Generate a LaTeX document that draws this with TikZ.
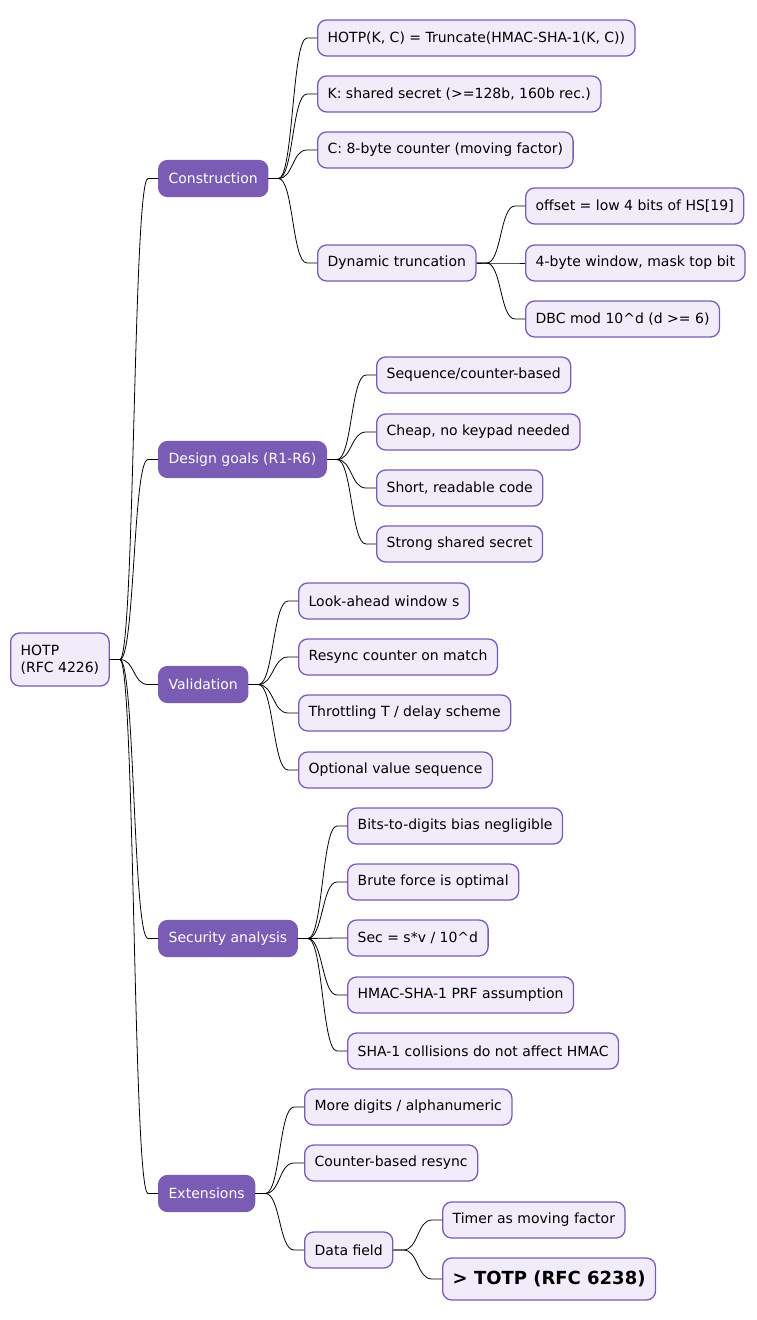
\documentclass[tikz,border=0pt]{standalone}
\usepackage{fontspec}
\setmainfont{DejaVu Sans}
\definecolor{mmfill}{HTML}{F1ECFA}
\definecolor{mmline}{HTML}{7B5CB5}

\begin{document}
\begin{tikzpicture}[x=1pt,y=-1pt]

% --- styles ---
\tikzset{
    blad/.style={
        draw=mmline, fill=mmfill, line width=1.3pt,
        rounded corners=9pt, anchor=west,
        font=\fontsize{14}{17}\selectfont,
        inner xsep=10pt, minimum height=36pt
    },
    tak/.style={
        blad, draw=mmline, fill=mmline, text=white
    },
    lijn/.style={
        draw=black, line width=0.8pt
    }
}
\useasboundingbox (0,0) rectangle (756,1320);

% --- root and main branches ---
\node[blad, align=left, minimum height=53pt] (root) at (10,659.5) {HOTP\\(RFC 4226)};
\node[tak] (cons) at (158,178.5) {Construction};
\node[tak] (goal) at (158,459.5) {Design goals (R1-R6)};
\node[tak] (vali) at (158,684.5) {Validation};
\node[tak] (secu) at (158,938.5) {Security analysis};
\node[tak] (exte) at (158,1193.5) {Extensions};

% --- construction ---
\node[blad] (cons1) at (317,38)  {HOTP(K, C) = Truncate(HMAC-SHA-1(K, C))};
\node[blad] (cons2) at (317,94)  {K: shared secret (>=128b, 160b rec.)};
\node[blad] (cons3) at (317,150) {C: 8-byte counter (moving factor)};
\node[blad] (dyn)   at (317,263) {Dynamic truncation};
\node[blad] (dyn1) at (525,206) {offset = low 4 bits of HS[19]};
\node[blad] (dyn2) at (525,263) {4-byte window, mask top bit};
\node[blad] (dyn3) at (525,319) {DBC mod 10\^{}d (d >= 6)};

% --- design goals ---
\node[blad] (goal1) at (376,375) {Sequence/counter-based};
\node[blad] (goal2) at (376,432) {Cheap, no keypad needed};
\node[blad] (goal3) at (376,488) {Short, readable code};
\node[blad] (goal4) at (376,544) {Strong shared secret};

% --- validation ---
\node[blad] (vali1) at (298,601) {Look-ahead window s};
\node[blad] (vali2) at (298,657) {Resync counter on match};
\node[blad] (vali3) at (298,713) {Throttling T / delay scheme};
\node[blad] (vali4) at (298,770) {Optional value sequence};

% --- security ---
\node[blad] (secu1) at (347,826)  {Bits-to-digits bias negligible};
\node[blad] (secu2) at (347,882)  {Brute force is optimal};
\node[blad] (secu3) at (347,938)  {Sec = s*v / 10\^{}d};
\node[blad] (secu4) at (347,995)  {HMAC-SHA-1 PRF assumption};
\node[blad] (secu5) at (347,1051) {SHA-1 collisions do not affect HMAC};

% --- extensions ---
\node[blad] (exte1) at (304,1107) {More digits / alphanumeric};
\node[blad] (exte2) at (304,1163) {Counter-based resync};
\node[blad] (data)  at (304,1250) {Data field};
\node[blad] (data1) at (442,1220) {Timer as moving factor};
\node[blad, minimum height=42pt, font=\fontsize{18}{21}\selectfont\bfseries] (data2) at (442,1279) {> TOTP (RFC 6238)};

% --- connectors ---
\foreach \a/\b in {root/cons, root/goal, root/vali, root/secu, root/exte,
                   cons/cons1, cons/cons2, cons/cons3, cons/dyn,
                   dyn/dyn1, dyn/dyn2, dyn/dyn3,
                   goal/goal1, goal/goal2, goal/goal3, goal/goal4,
                   vali/vali1, vali/vali2, vali/vali3, vali/vali4,
                   secu/secu1, secu/secu2, secu/secu3, secu/secu4, secu/secu5,
                   exte/exte1, exte/exte2, exte/data,
                   data/data1, data/data2}
    \draw[lijn] (\a.east) -- ++(10,0) to[out=0,in=180,distance=15pt] ([xshift=-10pt]\b.west) -- (\b.west);
\end{tikzpicture}
\end{document}
